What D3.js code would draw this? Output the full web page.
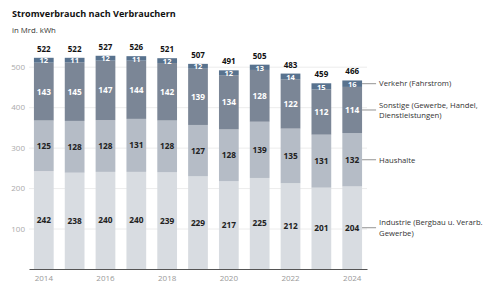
<!DOCTYPE html>
<html><head><meta charset="utf-8">
<script src="https://cdn.jsdelivr.net/npm/d3@7"></script>
<style>body{margin:0;background:#fff}svg{display:block;font-family:"Open Sans",sans-serif}</style>
</head><body><svg id="c" width="500" height="293"></svg>
<script>
const years = [2014,2015,2016,2017,2018,2019,2020,2021,2022,2023,2024];
const industrie = [242,238,240,240,239,229,217,225,212,201,204];
const haushalte = [125,128,128,131,128,127,128,139,135,131,132];
const sonstige = [143,145,147,144,142,139,134,128,122,112,114];
const verkehr = [12,11,12,11,12,12,12,13,14,15,16];
const totals = [522,522,527,526,521,507,491,505,483,459,466];
const yTicks = [100,200,300,400,500];
const xTickYears = [2014,2016,2018,2020,2022,2024];
const seriesNames = ["Industrie (Bergbau u. Verarb.|Gewerbe)","Haushalte","Sonstige (Gewerbe, Handel,|Dienstleistungen)","Verkehr (Fahrstrom)"];
const seriesColors = ["#d8dce1","#b5bcc6","#7b8696","#58728e"];
const labelColors = ["#222","#222","#fff","#fff"];

const svg = d3.select("#c");
const x = d3.scaleBand().domain(years).range([29,367]).paddingInner(0.36).paddingOuter(0.16);
const y = d3.scaleLinear().domain([0,500]).range([269,66.7]);

function fit(sel, target){
  const w = sel.node().getComputedTextLength();
  const fs = parseFloat(sel.attr("font-size"));
  if (w > 0) sel.attr("font-size", (fs*target/w).toFixed(2));
}

const data = years.map((yr,i)=>({year:yr, s0:industrie[i], s1:haushalte[i], s2:sonstige[i], s3:verkehr[i]}));
const stack = d3.stack().keys(["s0","s1","s2","s3"])(data);

const title = svg.append("text").attr("x",12).attr("y",17).attr("font-size",10).attr("font-weight",700).attr("fill","#111").text("Stromverbrauch nach Verbrauchern");
fit(title,164);
const sub = svg.append("text").attr("x",12).attr("y",33).attr("font-size",8).attr("fill","#333").text("in Mrd. kWh");
fit(sub,44);

// grid
const gy = svg.append("g").attr("transform","translate(29,0)")
  .call(d3.axisLeft(y).tickValues(yTicks).tickSize(-338).tickPadding(4));
gy.select(".domain").remove();
gy.selectAll(".tick line").attr("stroke","#ececec");
gy.selectAll(".tick text").attr("fill","#aaa").attr("font-size",8).attr("font-family","Open Sans");

stack.forEach((layer,k)=>{
  const g = svg.append("g");
  g.selectAll("rect").data(layer).join("rect")
    .attr("x",d=>x(d.data.year)).attr("width",x.bandwidth())
    .attr("y",d=>y(d[1])).attr("height",d=>y(d[0])-y(d[1]))
    .attr("fill",seriesColors[k]);
  g.selectAll("text").data(layer).join("text")
    .attr("x",d=>x(d.data.year)+x.bandwidth()/2)
    .attr("y",d=>y((d[0]+d[1])/2)+(k===3?3.2:3))
    .attr("text-anchor","middle").attr("font-size",k===3?7.5:8.3).attr("font-weight",700)
    .attr("fill",labelColors[k]).text(d=>d[1]-d[0]);
});

svg.append("g").selectAll("text").data(data).join("text")
  .attr("x",d=>x(d.year)+x.bandwidth()/2)
  .attr("y",(d,i)=>y(totals[i])-6)
  .attr("text-anchor","middle").attr("font-size",8).attr("font-weight",700).attr("fill","#111")
  .text((d,i)=>totals[i]);

const gx = svg.append("g").attr("transform","translate(0,269)")
  .call(d3.axisBottom(x).tickValues(xTickYears).tickSize(0).tickPadding(6));
gx.select(".domain").attr("stroke","#555").attr("stroke-width",1.2);
gx.selectAll(".tick text").attr("fill","#999").attr("font-size",8).attr("font-family","Open Sans");

// legend labels on last bar
const last = data.length-1;
const xr = x(years[last])+x.bandwidth();
stack.forEach((layer,k)=>{
  const d = layer[last];
  const yc = y((d[0]+d[1])/2);
  svg.append("line").attr("x1",xr).attr("x2",xr+14).attr("y1",yc).attr("y2",yc).attr("stroke","#777").attr("stroke-width",0.8);
  const lines = seriesNames[k].split("|");
  const t = svg.append("text").attr("x",xr+17).attr("font-size",7.7).attr("fill","#333");
  lines.forEach((ln,j)=>{
    t.append("tspan").attr("x",xr+17).attr("y",yc+2.8+(j-(lines.length-1)/2)*10.3).text(ln);
  });
});
</script></body></html>
